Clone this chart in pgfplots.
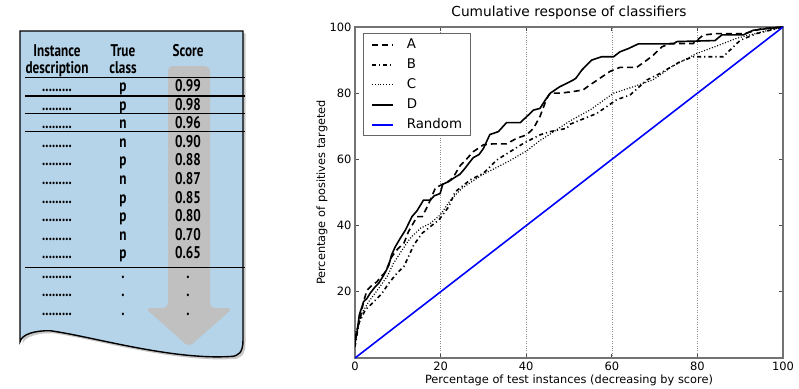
\documentclass[border=0pt]{standalone}
\usepackage{pgfplots}
\pgfplotsset{compat=1.18}
\usepackage{fontspec}
\setmainfont{DejaVu Sans}
\newfontfamily\tabfont[FakeStretch=0.78]{PT Sans}
\definecolor{docblue}{RGB}{181,212,234}
\definecolor{arrowgray}{RGB}{192,192,192}
\definecolor{rndblue}{RGB}{0,0,255}

\pgfplotstableread{
x y
0 6
0.6 9
1.2 12
2 17
2.8 20.5
4 22
5.1 23
6 24.5
7.1 26
8.6 30.6
10 33
11.4 34.6
12.5 38.2
14.5 42.7
15.7 42.7
17 46
18.8 51.4
20.5 52.5
22 53.5
23 54.7
24.5 58
26 60
27.6 62.3
30 64.4
32.3 64.7
35.4 64.7
37.8 66.4
40.1 67.4
41.7 69.4
43.2 72.9
44.8 78.4
45.6 80
47.9 80
51 80.5
53.3 81
54.9 82.5
57.2 84.5
59.6 86.6
61.9 87.8
65.8 87.8
68.2 90
69.7 91.5
71.7 94
73.6 95
79 95
81.4 97.6
84.5 98
91 98
95 99.5
100 100
}\dataA

\pgfplotstableread{
x y
0 3.4
0.9 10.5
2.4 14.5
4 16.5
6.3 19.5
7.9 22.6
9.8 25.6
11.4 27.6
12.5 30.6
13.7 34.1
15.7 37.7
17.6 39.7
19.6 41.7
21.9 45.7
23.4 50.2
24.5 51.3
26.9 53.8
30 55.8
33.1 59.8
36.2 62.3
39.3 64.8
43.2 67.4
45.6 68.4
49.5 69.4
50.2 70.6
56.5 73.9
61.1 78
64.3 79.5
68.2 84
71.3 86
75.9 89.5
79 91
86 91
87.6 93
90 96
93.8 98
100 100
}\dataB

\pgfplotstableread{
x y
0 7
1.6 13.5
3.2 17
5.5 21
7.5 24.6
9 28.6
11 32.6
12.9 36.2
15.3 39.2
17.6 40.7
19.9 43.2
22.3 47.7
25 51.3
27.3 53.3
29.7 55.3
33 57.5
36 59.5
40 62.5
43 65.5
46 68
50.2 71.6
55 75
60.4 80
64 81.5
69.6 84
74 88
79.8 92
84 94
89.2 96.6
95 98.5
100 100
}\dataC

\pgfplotstableread{
x y
0 4.5
0.5 8
1 13
2 17
2.8 18
3.5 19.5
4.7 21.5
5.5 22.5
6.7 25
7.9 28
8.5 31
9.4 33.6
10.5 36
11.8 38.7
13.3 42.7
14.5 44.5
16 47.7
17.6 47.7
18.5 49
19.9 49.7
20.5 52.5
21.9 53.3
23 54.3
24.5 55.5
25.5 57
27.6 60.5
29 61.5
30 63.3
31.5 67.5
33.5 68.4
35.4 71.1
38.6 71.1
40.5 73.4
41.7 74.9
43.2 75.4
44.5 78
45.6 80
47.9 82
49.5 83
51 84
51.6 84.5
53 87
55.3 90
57.6 91
60.4 91
61.9 92.5
63.9 93.5
66.2 94.9
74.4 94.9
75.2 95.6
84.1 95.9
85.7 97.6
90.7 97.6
93 99
96.2 99.5
100 100
}\dataD

\begin{document}
\begin{tikzpicture}[x=1bp,y=1bp]
\useasboundingbox (0,0) rectangle (799,388);

% ---------- left illustration ----------
\begin{scope}[shift={(2.5,-2.5)}]
\fill[black!40, opacity=0.55] (20,357) -- (243,357) -- (243,48) .. controls (243,36) and (239,31.5) .. (230,31.5) .. controls (170,28) and (90,52) .. (50,57.3) .. controls (35,57.5) and (22,54) .. (20,46.3) -- cycle;
\end{scope}
\fill[docblue] (20,357) -- (243,357) -- (243,48) .. controls (243,36) and (239,31.5) .. (230,31.5) .. controls (170,28) and (90,52) .. (50,57.3) .. controls (35,57.5) and (22,54) .. (20,46.3) -- cycle;
\fill[arrowgray, rounded corners=5] (168,80) -- (168,322) -- (210,322) -- (210,80) -- (233,80) -- (189,41) -- (145,80) -- cycle;
\draw[black, line width=1.4bp] (20,357) -- (243,357) -- (243,48) .. controls (243,36) and (239,31.5) .. (230,31.5) .. controls (170,28) and (90,52) .. (50,57.3) .. controls (35,57.5) and (22,54) .. (20,46.3) -- cycle;
\foreach \yy in {310.7,292,274.5,256.3,120.3}
  \draw[black, line width=1.5bp] (25,\yy) -- (245,\yy);

\begin{scope}[every node/.style={inner sep=0pt, anchor=base, font=\tabfont\bfseries\fontsize{17}{17}\selectfont}]
\node at (57,332) {Instance};
\node at (57,315) {description};
\node at (123,332) {True};
\node at (123,315) {class};
\node at (188,332) {Score};
\foreach \cl/\sc [count=\i from 0] in {p/0.99,p/0.98,n/0.96,n/0.90,p/0.88,n/0.87,p/0.85,p/0.80,n/0.70,p/0.65}{
  \node at (57,{296.3-18.55*\i}) {\fontsize{16.5}{16}\selectfont .........};
  \node at (123,{296.3-18.55*\i}) {\cl};
  \node at (188,{296.3-18.55*\i}) {\sc};
}
\foreach \yy in {110,91.5,73}{
  \node at (57,\yy) {\fontsize{16.5}{16}\selectfont .........};
  \node at (123,\yy) {.};
  \node at (188,\yy) {.};
}
\end{scope}

% ---------- chart ----------
\begin{axis}[
  at={(355bp,30bp)}, anchor=south west,
  scale only axis, width=428bp, height=331bp,
  xmin=0, xmax=100, ymin=0, ymax=100,
  xtick={0,20,40,60,80,100}, ytick={20,40,60,80,100},
  tick align=inside, tick pos=both, major tick length=4bp,
  xmajorgrids, grid style={dotted, black!45, line width=0.6bp},
  axis line style={black!55, line width=1.1bp},
  tick style={black!70, line width=0.8bp},
  /pgf/number format/assume math mode=true,
  every tick label/.append style={font=\fontsize{11.5}{12}\selectfont},
  title={Cumulative response of classifiers},
  title style={at={(axis description cs:0.5,1)}, anchor=base, yshift=5bp, font=\fontsize{13.8}{14}\selectfont},
  xlabel={Percentage of test instances (decreasing by score)},
  xlabel style={at={(axis description cs:0.5,0)}, anchor=base, yshift=-25bp, font=\fontsize{11.4}{12}\selectfont},
  ylabel={Percentage of positives targeted},
  ylabel style={at={(axis description cs:-0.0701,0.5)}, anchor=base, font=\fontsize{11.4}{12}\selectfont},
  legend image code/.code={\draw[#1] (0bp,0bp) -- (21bp,0bp);},
  legend style={at={(0.018,0.981)}, anchor=north west, draw=black!60, line width=0.9bp,
    font=\fontsize{13.4}{14}\selectfont, inner xsep=8bp, inner ysep=4.5bp, row sep=7bp,
    nodes={inner sep=0pt, text height=10bp, text depth=3bp},
    column sep=13bp},
  legend cell align=left,
]
\addplot[black, line width=1.6bp, dash pattern=on 6bp off 4bp] table {\dataA};
\addlegendentry{A}
\addplot[black, line width=1.6bp, dash pattern=on 4bp off 3bp on 1.2bp off 3bp] table {\dataB};
\addlegendentry{B}
\addplot[black, line width=1.2bp, dash pattern=on 1bp off 1.8bp] table {\dataC};
\addlegendentry{C}
\addplot[black, line width=1.6bp] table {\dataD};
\addlegendentry{D}
\addplot[rndblue, line width=1.6bp] coordinates {(0,0) (100,100)};
\addlegendentry{Random}
\end{axis}
\end{tikzpicture}
\end{document}
